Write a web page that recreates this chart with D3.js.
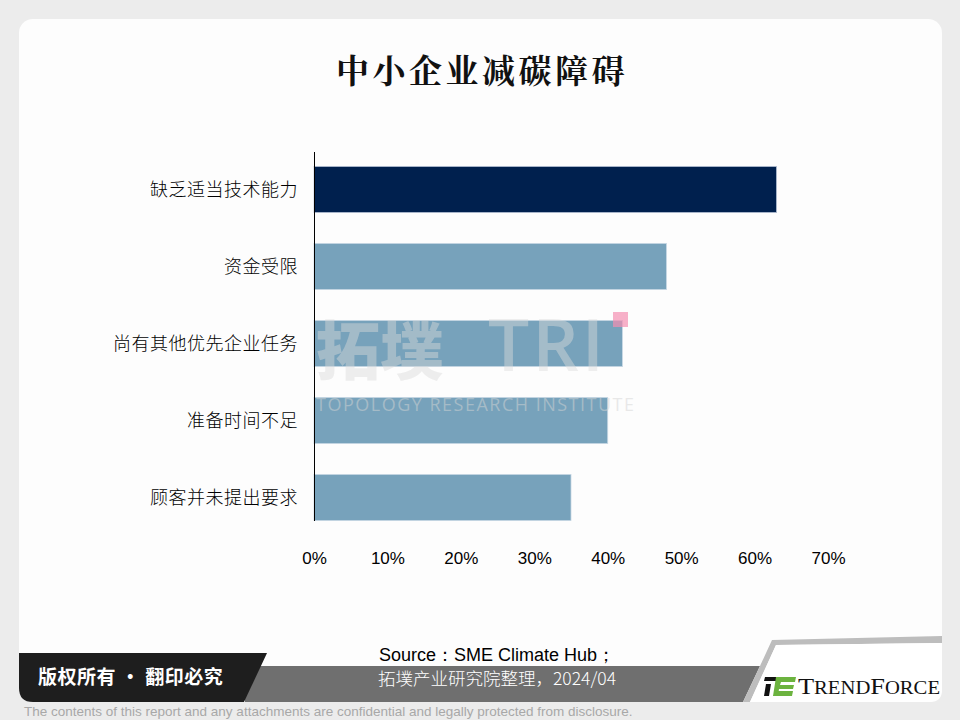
<!DOCTYPE html>
<html><head><meta charset="utf-8">
<script src="https://cdn.jsdelivr.net/npm/d3@7"></script>
<style>
html,body{margin:0;padding:0;background:#ececec;}
svg{display:block;}
</style></head>
<body>
<svg id="chart" width="960" height="720"></svg>
<script>
const title = "中小企业减碳障碍";
const categories = ["缺乏适当技术能力","资金受限","尚有其他优先企业任务","准备时间不足","顾客并未提出要求"];
const values = [63, 48, 42, 40, 35];
const ticks = [0,10,20,30,40,50,60,70];
const sourceLine1 = "Source：SME Climate Hub；";
const sourceLine2 = "拓墣产业研究院整理，2024/04";
const copyright = "版权所有 · 翻印必究";
const disclaimer = "The contents of this report and any attachments are confidential and legally protected from disclosure.";

const svg = d3.select("#chart");
svg.append("rect").attr("width",960).attr("height",720).attr("fill","#ececec");
svg.append("rect").attr("x",19).attr("y",19).attr("width",923).attr("height",683).attr("rx",14).attr("fill","#fdfdfd");

svg.append("text").attr("x",482).attr("y",83).attr("text-anchor","middle")
  .attr("font-family","'Noto Serif CJK SC','Noto Sans CJK SC',serif").attr("font-weight",700)
  .attr("font-size",33).attr("letter-spacing",3.5).attr("fill","#111").text(title);

const x = d3.scaleLinear().domain([0,70]).range([314,828]);
const y = d3.scaleBand().domain(categories).range([151,536]).paddingInner(0.4).paddingOuter(0.2);

svg.append("g").selectAll("rect").data(values).join("rect")
  .attr("x",x(0)).attr("y",(d,i)=>y(categories[i]))
  .attr("width",d=>x(d)-x(0)).attr("height",y.bandwidth())
  .attr("fill",(d,i)=>i===0?"#00204e":"#77a2bb")
  .attr("stroke",(d,i)=>i===0?"#b8c4d8":"#c8d8e4").attr("stroke-width",0.8);

// watermark
const wm = svg.append("g").attr("pointer-events","none");
wm.append("text").attr("x",316).attr("y",374).attr("font-family","'Noto Sans CJK SC',sans-serif")
  .attr("font-weight",900).attr("font-size",64).attr("fill","#d9d9d9").attr("fill-opacity",0.45).text("拓墣");
wm.append("text").attr("x",488).attr("y",371).attr("font-family","'Open Sans',sans-serif")
  .attr("font-weight",600).attr("font-size",73).attr("fill","#dcdcdc").attr("fill-opacity",0.45).attr("letter-spacing",3).text("TRI");
wm.append("rect").attr("x",613).attr("y",312).attr("width",15).attr("height",15).attr("fill","#f48fb1").attr("fill-opacity",0.7);
wm.append("text").attr("x",316).attr("y",411).attr("font-family","'Open Sans',sans-serif")
  .attr("font-size",18).attr("fill","#d4d4d4").attr("fill-opacity",0.5).attr("textLength",318).text("TOPOLOGY RESEARCH INSTITUTE");

svg.append("line").attr("x1",314.5).attr("x2",314.5).attr("y1",152).attr("y2",521).attr("stroke","#000").attr("stroke-width",1);

svg.append("g").selectAll("text").data(categories).join("text")
  .attr("x",298).attr("y",d=>y(d)+y.bandwidth()/2).attr("dy","0.36em")
  .attr("text-anchor","end").attr("font-family","'Noto Sans CJK SC',sans-serif").attr("font-weight",300)
  .attr("font-size",18).attr("letter-spacing",0.5).attr("fill","#000").text(d=>d);

const xAxis = d3.axisBottom(x).tickValues(ticks).tickFormat(d=>d+"%").tickSize(0).tickPadding(0);
const gx = svg.append("g").attr("transform","translate(0,552)").call(xAxis);
gx.select(".domain").remove();
gx.selectAll("text").attr("font-family","'Liberation Sans',Arial,sans-serif").attr("font-size",17).attr("fill","#000");

// footer
const f = svg.append("g");
f.append("path").attr("d","M245,666 L760,666 L743,702 L245,702 Z").attr("fill","#6f6f6f");
f.append("path").attr("d","M760,666 L772,640 L942,636 L942,643 L776,645 L750,702 L743,702 Z").attr("fill","#bdbdbd");
f.append("path").attr("d","M776,645 L942,643 L942,690 Q942,702 930,702 L750,702 Z").attr("fill","#ffffff");
f.append("path").attr("d","M19,653 L267,653 L244,702 L33,702 Q19,702 19,688 Z").attr("fill","#1e1e1e");
f.append("text").attr("x",38).attr("y",684).attr("font-family","'Noto Sans CJK SC',sans-serif").attr("font-weight",700)
  .attr("font-size",19).attr("fill","#fff").attr("letter-spacing",0.5).text(copyright);
f.append("text").attr("x",497).attr("y",661).attr("text-anchor","middle").attr("font-family","'Liberation Sans',Arial,sans-serif")
  .attr("font-size",18).attr("fill","#000").text(sourceLine1);
f.append("text").attr("x",497).attr("y",685).attr("text-anchor","middle").attr("font-family","'Noto Sans CJK SC','Liberation Sans',sans-serif")
  .attr("font-weight",300).attr("font-size",17.5).attr("fill","#fff").text(sourceLine2);
// logo
f.append("path").attr("d","M765,677 L787,677 L786,681 L764,681 Z").attr("fill","#111");
f.append("path").attr("d","M766,684 L771,684 L769,696 L764,696 Z").attr("fill","#111");
f.append("path").attr("d","M776,677 L796,677 L795,682 L781,682 L780,685 L794,685 L793,689 L779,689 L778,696 L773,696 Z").attr("fill","#6cb33f");
f.append("path").attr("d","M773,696 L792,696 L793,691 L778,691 Z").attr("fill","#6cb33f");
f.append("text").attr("x",798).attr("y",694).attr("font-family","'Liberation Serif','DejaVu Serif',serif")
  .attr("font-size",23).attr("fill","#111").attr("textLength",142).attr("lengthAdjust","spacingAndGlyphs")
  .html('T<tspan font-size="18">REND</tspan>F<tspan font-size="18">ORCE</tspan>');
svg.append("text").attr("x",24).attr("y",716).attr("font-family","'Liberation Sans',Arial,sans-serif")
  .attr("font-size",13.5).attr("fill","#a8a8a8").text(disclaimer);
</script>
</body></html>
